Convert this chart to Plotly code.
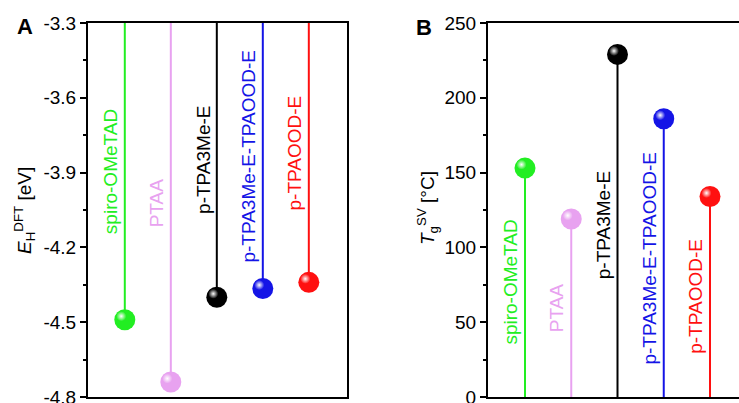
import plotly.graph_objects as go

# ---------------- data ----------------
materials = ["spiro-OMeTAD", "PTAA", "p-TPA3Me-E", "p-TPA3Me-E-TPAOOD-E", "p-TPAOOD-E"]
x_pos = [1, 2, 3, 4, 5]
homo_dft = [-4.49, -4.74, -4.40, -4.365, -4.34]      # E_H^DFT [eV]
tg_sv = [153, 119, 229, 186, 134]                     # T_g^SV [°C]

colors = ["#22EE22", "#E8A2F0", "#000000", "#1414E6", "#FF1010"]

homo_ticks = [-4.8, -4.5, -4.2, -3.9, -3.6, -3.3]
homo_ticktext = ["-4.8", "-4.5", "-4.2", "-3.9", "-3.6", "-3.3"]
tg_ticks = [0, 50, 100, 150, 200, 250]
tg_ticktext = ["0", "50", "100", "150", "200", "250"]

# ---------------- layout geometry ----------------
W, H = 739, 403
A_dom = [88 / W, 347 / W]
B_dom = [488 / W, 1.0]
Y_dom = [(H - 397) / H, (H - 23) / H]
A_xr = [0.2, 5.83]
B_xr = [0.2, 5.627]
A_yr = [-4.8, -3.3]
B_yr = [0, 250]

FONT = "Liberation Sans, Arial, sans-serif"

fig = go.Figure()


def px_per_unit(dom, rng, total):
    return (dom[1] - dom[0]) * total / (rng[1] - rng[0])


def add_panel(vals, base, xa, ya, xdom, xr, yr):
    sx = px_per_unit(xdom, xr, W)
    sy = px_per_unit(Y_dom, yr, H)
    for xi, v, c in zip(x_pos, vals, colors):
        # stem
        fig.add_trace(go.Scatter(x=[xi, xi], y=[base, v], mode="lines",
                                 line=dict(color=c, width=2),
                                 xaxis=xa, yaxis=ya, showlegend=False, hoverinfo="skip"))
    # balls
    fig.add_trace(go.Scatter(x=x_pos, y=vals, mode="markers",
                             marker=dict(color=colors, size=21, line=dict(width=0)),
                             xaxis=xa, yaxis=ya, showlegend=False))
    # highlights
    hx = [xi - 3.5 / sx for xi in x_pos]
    hy = [v + 3.5 / sy for v in vals]
    fig.add_trace(go.Scatter(x=hx, y=hy, mode="markers",
                             marker=dict(color=colors, size=10, line=dict(width=0),
                                         gradient=dict(type="radial", color="#FFFFFF")),
                             xaxis=xa, yaxis=ya, showlegend=False, hoverinfo="skip"))
    # labels
    for xi, v, c, name in zip(x_pos, vals, colors, materials):
        fig.add_annotation(x=xi, y=(base + v) / 2, xref=xa, yref=ya,
                           text=name, textangle=-90, showarrow=False,
                           xshift=-14, xanchor="center", yanchor="middle",
                           font=dict(family=FONT, size=19, color=c))


add_panel(homo_dft, A_yr[1], "x", "y", A_dom, A_xr, A_yr)
add_panel(tg_sv, B_yr[0], "x2", "y2", B_dom, B_xr, B_yr)

axis_common = dict(showline=True, linecolor="black", linewidth=2, showgrid=False,
                   zeroline=False, automargin=False)

fig.update_layout(
    width=W, height=H,
    margin=dict(l=0, r=0, t=0, b=0, autoexpand=False),
    paper_bgcolor="white", plot_bgcolor="white",
    font=dict(family=FONT, size=19, color="black"),
    xaxis=dict(domain=A_dom, range=A_xr, mirror=True, showticklabels=False,
               ticks="", anchor="y", **axis_common),
    yaxis=dict(domain=Y_dom, range=A_yr, mirror=True, anchor="x",
               tickvals=homo_ticks, ticktext=homo_ticktext,
               ticks="outside", ticklen=6, tickwidth=2, tickcolor="black",
               ticklabeloverflow="allow",
               minor=dict(dtick=0.15, tick0=-4.8, ticks="outside", ticklen=3,
                          tickwidth=2, tickcolor="black", showgrid=False),
               tickfont=dict(size=19), **axis_common),
    xaxis2=dict(domain=B_dom, range=B_xr, mirror=True, showticklabels=False,
                ticks="", anchor="y2", **axis_common),
    yaxis2=dict(domain=Y_dom, range=B_yr, mirror=False, anchor="x2",
                tickvals=tg_ticks, ticktext=tg_ticktext,
                ticks="outside", ticklen=6, tickwidth=2, tickcolor="black",
                ticklabeloverflow="allow",
                minor=dict(dtick=25, tick0=0, ticks="outside", ticklen=3,
                           tickwidth=2, tickcolor="black", showgrid=False),
                tickfont=dict(size=19), **axis_common),
)

# panel letters
fig.add_annotation(x=25 / W, y=1 - 27 / H, xref="paper", yref="paper", text="<b>A</b>",
                   showarrow=False, xanchor="center", yanchor="middle",
                   font=dict(family=FONT, size=22, color="black"))
fig.add_annotation(x=424 / W, y=1 - 28 / H, xref="paper", yref="paper", text="<b>B</b>",
                   showarrow=False, xanchor="center", yanchor="middle",
                   font=dict(family=FONT, size=22, color="black"))

# axis titles
fig.add_annotation(x=25 / W, y=1 - 211 / H, xref="paper", yref="paper",
                   text="<i>E</i><sub>H</sub><sup>DFT</sup> [eV]", textangle=-90,
                   showarrow=False, xanchor="center", yanchor="middle",
                   font=dict(family=FONT, size=19, color="black"))
fig.add_annotation(x=427 / W, y=1 - 208 / H, xref="paper", yref="paper",
                   text="<i>T</i><sub>g</sub><sup>SV</sup> [°C]", textangle=-90,
                   showarrow=False, xanchor="center", yanchor="middle",
                   font=dict(family=FONT, size=19, color="black"))

fig.write_html("out.html")
